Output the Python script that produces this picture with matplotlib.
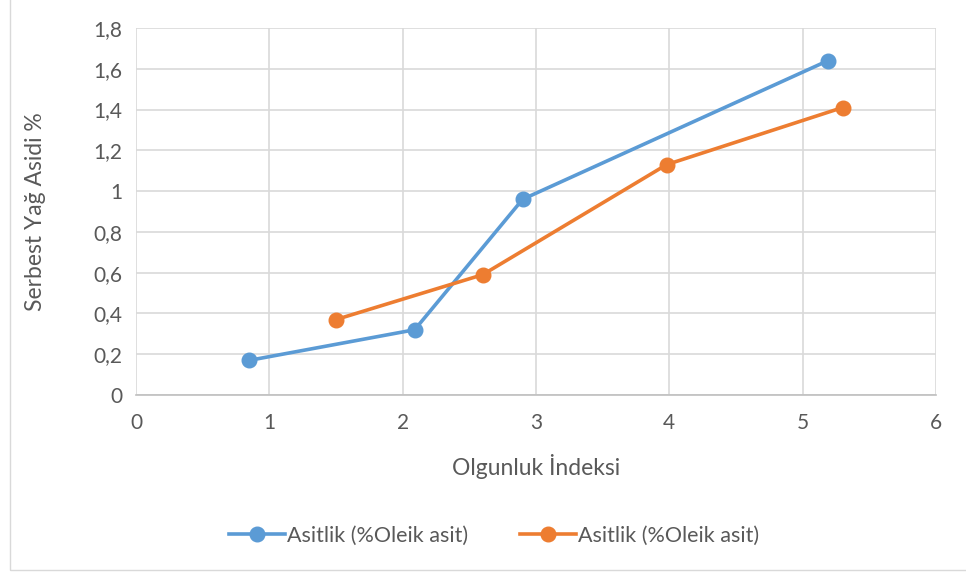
import matplotlib.pyplot as plt
from matplotlib.patches import Rectangle

plt.rcParams['font.family'] = ['Lato', 'DejaVu Sans']

# olgunluk indeksi / serbest yag asidi
x_blue = [0.85, 2.09, 2.9, 5.19]
y_blue = [0.17, 0.32, 0.96, 1.64]
x_orange = [1.5, 2.6, 3.98, 5.3]
y_orange = [0.37, 0.59, 1.13, 1.41]
series_label = 'Asitlik (%Oleik asit)'

x_ticks = [0, 1, 2, 3, 4, 5, 6]
y_ticks = [0, 0.2, 0.4, 0.6, 0.8, 1.0, 1.2, 1.4, 1.6, 1.8]
y_tick_labels = ['0', '0,2', '0,4', '0,6', '0,8', '1', '1,2', '1,4', '1,6', '1,8']

blue = '#5B9BD5'
orange = '#ED7D31'
text_col = '#595959'

fig = plt.figure(figsize=(9.66, 5.78), dpi=100)
fig.patches.append(Rectangle((10 / 966, 8 / 578), 1.2, 1.2, transform=fig.transFigure,
                             fill=False, edgecolor='#D9D9D9', linewidth=1.0))
ax = fig.add_axes([136 / 966, 183 / 578, 800 / 966, 367 / 578])

ax.plot(x_blue, y_blue, color=blue, lw=2.6, marker='o', ms=10.5, label=series_label, zorder=3)
ax.plot(x_orange, y_orange, color=orange, lw=2.6, marker='o', ms=10.5, label=series_label, zorder=3)

ax.set_xlim(0, 6)
ax.set_ylim(0, 1.8)
ax.set_xticks(x_ticks)
ax.set_yticks(y_ticks)
ax.set_yticklabels(y_tick_labels)
ax.tick_params(length=0, labelsize=15, colors=text_col, pad=10)
ax.tick_params(axis='x', pad=13)
ax.grid(True, color='#D9D9D9', lw=1.2)
for s in ['top', 'right', 'left']:
    ax.spines[s].set_visible(False)
ax.spines['bottom'].set_color('#BFBFBF')
ax.spines['bottom'].set_linewidth(1.2)
ax.set_axisbelow(True)

ax.set_xlabel('Olgunluk İndeksi', fontsize=16.5, color=text_col, labelpad=15)
ax.set_ylabel('Serbest Yağ Asidi %', fontsize=16.5, color=text_col, labelpad=34)

fig.legend(loc='center', bbox_to_anchor=(494 / 966, 1 - 536 / 578), ncol=2, frameon=False,
           fontsize=15.5, labelcolor=text_col, handlelength=2.6, columnspacing=2.4, handletextpad=0.1)

fig.savefig('out.png', dpi=100)
